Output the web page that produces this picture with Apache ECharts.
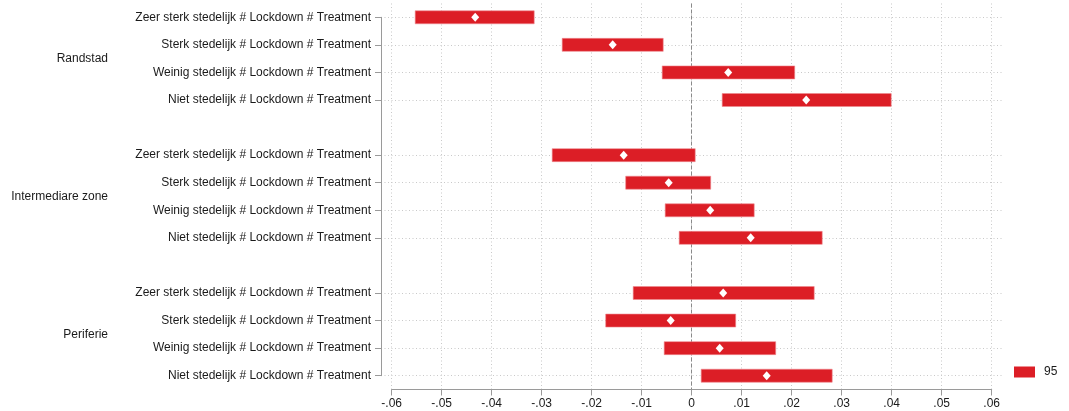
<!DOCTYPE html>
<html>
<head>
<meta charset="utf-8">
<script src="https://cdn.jsdelivr.net/npm/echarts@6/dist/echarts.min.js"></script>
<style>
  html, body { margin: 0; padding: 0; background: #fff; }
  #chart { width: 1069px; height: 411px; }
</style>
</head>
<body>
<div id="chart"></div>
<script>
// groups and the rows inside each group (top to bottom)
const groups = ["Randstad", "Intermediare zone", "Periferie"];
const rowLabels = [
  "Zeer sterk stedelijk # Lockdown # Treatment",
  "Sterk stedelijk # Lockdown # Treatment",
  "Weinig stedelijk # Lockdown # Treatment",
  "Niet stedelijk # Lockdown # Treatment",
];

// estimates and 95% bounds, group by group, same row order
const estimates = [
  -0.0433, -0.0158, 0.0073, 0.0229,
  -0.0136, -0.0046, 0.0037, 0.0118,
   0.0063, -0.0042, 0.0056, 0.0150,
];
const lower95 = [
  -0.0553, -0.0259, -0.0059, 0.0061,
  -0.0279, -0.0132, -0.0053, -0.0025,
  -0.0117, -0.0172, -0.0055, 0.0019,
];
const upper95 = [
  -0.0315, -0.0057, 0.0206, 0.0399,
   0.0007, 0.0038, 0.0125, 0.0261,
   0.0245, 0.0088, 0.0168, 0.0281,
];
const xTicks = [-0.06, -0.05, -0.04, -0.03, -0.02, -0.01, 0, 0.01, 0.02, 0.03, 0.04, 0.05, 0.06];

// one empty slot between groups
const perGroup = rowLabels.length;
const slotOf = (i) => Math.floor(i / perGroup) * (perGroup + 1) + (i % perGroup);
const slots = estimates.map((_, i) => slotOf(i));
const slotLabel = {};
slots.forEach((s, i) => { slotLabel[s] = rowLabels[i % perGroup]; });
const groupMid = groups.map((_, g) => g * (perGroup + 1) + (perGroup - 1) / 2);
const groupLabel = {};
groupMid.forEach((m, g) => { groupLabel[m] = groups[g]; });
const lastSlot = slots[slots.length - 1];

const fmtX = (v) => {
  if (Math.abs(v) < 1e-9) return "0";
  return (v < 0 ? "-" : "") + Math.abs(v).toFixed(2).replace(/^0/, "");
};

const font = "'Liberation Sans', Helvetica, Arial, sans-serif";
const red = "#dc1e26";
const dotted = { color: "#c9c9c9", width: 1, type: [1, 2.5] };
const axisGray = "#9a9a9a";

const chart = echarts.init(document.getElementById("chart"));
chart.setOption({
  animation: false,
  textStyle: { fontFamily: font },
  grid: [
    // wide grid for the row lines and the y axis
    { left: 381, top: 17.3, width: 622, height: 358.4 },
    // plotting grid with the x axis
    { left: 391.7, top: 3.5, width: 600, height: 386 },
  ],
  legend: {
    left: 1014, top: 366, padding: 0,
    itemWidth: 21, itemHeight: 11, itemGap: 0,
    icon: "rect",
    data: ["95"],
    textStyle: { fontFamily: font, fontSize: 12, color: "#1a1a1a", padding: [0, 0, 0, 4] },
  },
  xAxis: [
    { gridIndex: 0, type: "value", min: -0.0622, max: 0.0622, show: false },
    {
      gridIndex: 1, type: "value", min: -0.06, max: 0.06, interval: 0.01,
      axisLine: { show: true, onZero: false, lineStyle: { color: axisGray } },
      axisTick: { show: true, length: 6, lineStyle: { color: axisGray } },
      axisLabel: { formatter: fmtX, fontSize: 12, color: "#1a1a1a", margin: 8, fontFamily: font, showMinLabel: true, showMaxLabel: true },
      splitLine: { show: true, lineStyle: dotted },
    },
  ],
  yAxis: [
    {
      gridIndex: 0, type: "value", inverse: true, min: 0, max: lastSlot,
      axisLine: { show: true, onZero: false, lineStyle: { color: axisGray } },
      axisTick: { show: true, length: 6, customValues: slots, lineStyle: { color: axisGray } },
      axisLabel: {
        customValues: slots, margin: 10, fontSize: 12, color: "#1a1a1a", fontFamily: font,
        formatter: (v) => slotLabel[Math.round(v)] || "",
      },
      splitLine: { show: true, lineStyle: dotted },
    },
    {
      gridIndex: 1, type: "value", inverse: true, min: -0.5, max: lastSlot + 0.5,
      axisLine: { show: false, onZero: false }, axisTick: { show: false }, axisLabel: { show: false }, splitLine: { show: false },
    },
    {
      gridIndex: 1, type: "value", inverse: true, min: -0.5, max: lastSlot + 0.5,
      position: "left", offset: 283.7,
      axisLine: { show: false, onZero: false }, axisTick: { show: false }, splitLine: { show: false },
      axisLabel: {
        customValues: groupMid, margin: 0, fontSize: 12, color: "#1a1a1a", fontFamily: font,
        formatter: (v) => groupLabel[v] || "",
      },
    },
  ],
  series: [
    {
      name: "95",
      type: "custom",
      xAxisIndex: 1, yAxisIndex: 1,
      itemStyle: { color: red },
      encode: { x: [1, 2], y: 0 },
      data: slots.map((s, i) => [s, lower95[i], upper95[i]]),
      renderItem: (params, api) => {
        const y = api.value(0);
        const a = api.coord([api.value(1), y]);
        const b = api.coord([api.value(2), y]);
        const h = 13;
        return {
          type: "rect",
          shape: { x: a[0], y: a[1] - h / 2, width: b[0] - a[0], height: h },
          style: { fill: red, stroke: "#ee8a8e", lineWidth: 0.6 },
        };
      },
      z: 3,
    },
    {
      name: "estimate",
      type: "scatter",
      xAxisIndex: 1, yAxisIndex: 1,
      symbol: "diamond",
      symbolSize: [8, 9],
      itemStyle: { color: "#ffffff", opacity: 1 },
      data: slots.map((s, i) => [estimates[i], s]),
      z: 4,
      markLine: {
        silent: true, symbol: "none", label: { show: false },
        lineStyle: { color: "#8a8a8a", width: 1, type: [4, 2] },
        data: [{ xAxis: 0 }],
        z: 2,
      },
    },
  ],
});
</script>
</body>
</html>
